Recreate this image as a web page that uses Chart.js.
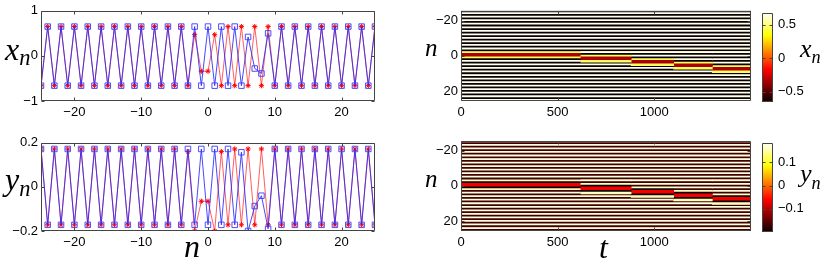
<!DOCTYPE html>
<html>
<head>
<meta charset="utf-8">
<script src="https://cdn.jsdelivr.net/npm/chart.js@4.4.0/dist/chart.umd.min.js"></script>
<style>
  html, body { margin: 0; padding: 0; background: #fff; }
  #wrap { position: relative; width: 831px; height: 263px; overflow: hidden; }
  canvas { position: absolute; }
  .lab { position: absolute; font-family: "Liberation Serif", "Times New Roman", serif; font-style: italic; color: #000; line-height: 1; white-space: nowrap; }
  .lab sub { font-size: 0.7em; vertical-align: baseline; position: relative; }
</style>
</head>
<body>
<div id="wrap">
  <canvas id="xLine" width="390" height="125" style="left:0px;top:0px"></canvas>
  <canvas id="yLine" width="390" height="131" style="left:0px;top:132px"></canvas>
  <canvas id="xHeat" width="365" height="125" style="left:400px;top:0px"></canvas>
  <canvas id="yHeat" width="365" height="133" style="left:400px;top:130px"></canvas>
  <canvas id="xBar" width="76" height="125" style="left:755px;top:0px"></canvas>
  <canvas id="yBar" width="76" height="133" style="left:755px;top:130px"></canvas>

  <div class="lab" style="left:5px;top:33px;font-size:32px">x<sub style="top:5px">n</sub></div>
  <div class="lab" style="left:5px;top:163px;font-size:32px">y<sub style="top:6px">n</sub></div>
  <div class="lab" style="left:184px;top:230px;font-size:32px">n</div>
  <div class="lab" style="left:425px;top:35px;font-size:25px">n</div>
  <div class="lab" style="left:425px;top:166px;font-size:25px">n</div>
  <div class="lab" style="left:599px;top:231px;font-size:32px">t</div>
  <div class="lab" style="left:800px;top:36px;font-size:26px">x<sub style="top:6px">n</sub></div>
  <div class="lab" style="left:800px;top:161px;font-size:26px">y<sub style="top:7px">n</sub></div>
</div>

<script>
// ---- data ----
const nValues = [-25,-24,-23,-22,-21,-20,-19,-18,-17,-16,-15,-14,-13,-12,-11,-10,-9,-8,-7,-6,-5,-4,-3,-2,-1,
                 0,1,2,3,4,5,6,7,8,9,10,11,12,13,14,15,16,17,18,19,20,21,22,23,24,25];
const nTicks = [-20, -10, 0, 10, 20];

// x_n, red stars (start) and blue squares (end)
const xRed = [-0.66,0.65,-0.66,0.65,-0.66,0.65,-0.66,0.65,-0.66,0.65,-0.66,0.65,-0.66,0.65,-0.66,0.65,-0.66,0.65,-0.66,0.65,-0.66,0.65,-0.66,
              0.47,-0.34,-0.34,0.47,
              -0.66,0.65,-0.66,0.65,-0.66,0.65,-0.66,0.65,-0.66,0.65,-0.66,0.65,-0.66,0.65,-0.66,0.65,-0.66,0.65,-0.66,0.65,-0.66,0.65,-0.66,0.65];
const xBlue = [-0.66,0.65,-0.66,0.65,-0.66,0.65,-0.66,0.65,-0.66,0.65,-0.66,0.65,-0.66,0.65,-0.66,0.65,-0.66,0.65,-0.66,0.65,-0.66,0.65,-0.66,0.65,-0.66,0.65,-0.66,0.65,-0.66,0.65,-0.66,
               0.42,-0.28,-0.39,0.5,
               -0.66,0.65,-0.66,0.65,-0.66,0.65,-0.66,0.65,-0.66,0.65,-0.66,0.65,-0.66,0.65,-0.66,0.65];
const xTicks = [-1, 0, 1];

// y_n
const yRed = [0.172,-0.172,0.172,-0.172,0.172,-0.172,0.172,-0.172,0.172,-0.172,0.172,-0.172,0.172,-0.172,0.172,-0.172,0.172,-0.172,0.172,-0.172,0.172,-0.172,
              0.16,-0.2,-0.065,-0.065,-0.2,0.16,
              -0.172,0.172,-0.172,0.172,-0.172,0.172,-0.172,0.172,-0.172,0.172,-0.172,0.172,-0.172,0.172,-0.172,0.172,-0.172,0.172,-0.172,0.172,-0.172,0.172,-0.172];
const yBlue = [0.172,-0.172,0.172,-0.172,0.172,-0.172,0.172,-0.172,0.172,-0.172,0.172,-0.172,0.172,-0.172,0.172,-0.172,0.172,-0.172,0.172,-0.172,0.172,-0.172,0.172,-0.172,0.172,-0.172,0.172,-0.172,0.172,-0.172,
               0.157,-0.2,-0.087,-0.04,-0.19,
               0.172,-0.172,0.172,-0.172,0.172,-0.172,0.172,-0.172,0.172,-0.172,0.172,-0.172,0.172,-0.172,0.172,-0.172];
const yTicks = [-0.2, 0, 0.2];

// heatmaps: time slices and how far (in sites) the kink has moved in each
const heatEdges = [0, 620, 880, 1100, 1300, 1500];
const kinkShift = [0, 2, 4, 6, 8];
const heatTicksT = [0, 500, 1000];
const heatTicksN = [-20, 0, 20];

// colour bars
const xColorRange = [-0.655, 0.68];
const yColorRange = [-0.2, 0.184];
const xBarTicks = [-0.5, 0, 0.5];
const yBarTicks = [-0.1, 0, 0.1];

Chart.defaults.font.family = '"Liberation Sans", Arial, Helvetica, sans-serif';
Chart.defaults.font.size = 13;
Chart.defaults.color = '#000';

const FRAME = '#444';

function fmt(v) {
    return (v < 0 ? '\u2212' : '') + Math.abs(v);
}

function setTicks(list) {
    return (scale) => { scale.ticks = list.map(v => ({ value: v })); };
}

// matlab "hot" with 64 levels
function hot(v, range) {
    let f = (v - range[0]) / (range[1] - range[0]);
    f = Math.max(0, Math.min(1, f));
    const i = Math.round(f * 63);
    const r = i < 24 ? (i + 1) / 24 : 1;
    const g = i < 24 ? 0 : (i < 48 ? (i - 23) / 24 : 1);
    const b = i < 48 ? 0 : (i - 47) / 16;
    return `rgb(${Math.round(r * 255)},${Math.round(g * 255)},${Math.round(b * 255)})`;
}

// box + inward ticks on all four sides
const framePlugin = {
    id: 'frame',
    afterDraw(chart) {
        const { ctx, chartArea: a, scales } = chart;
        ctx.save();
        ctx.strokeStyle = FRAME;
        ctx.lineWidth = 1;
        ctx.beginPath();
        const L = Math.round(a.left) + 0.5, R = Math.round(a.right) - 0.5;
        const T = Math.round(a.top) + 0.5, B = Math.round(a.bottom) - 0.5;
        ctx.rect(L, T, R - L, B - T);
        const tl = 3;
        if (scales.x && scales.x.options.display !== false) {
            scales.x.ticks.forEach(t => {
                const x = Math.round(scales.x.getPixelForValue(t.value)) + 0.5;
                ctx.moveTo(x, B); ctx.lineTo(x, B - tl);
                ctx.moveTo(x, T); ctx.lineTo(x, T + tl);
            });
        }
        if (scales.y) {
            scales.y.ticks.forEach(t => {
                const y = Math.round(scales.y.getPixelForValue(t.value)) + 0.5;
                ctx.moveTo(L, y); ctx.lineTo(L + tl, y);
                ctx.moveTo(R, y); ctx.lineTo(R - tl, y);
            });
        }
        ctx.stroke();
        ctx.restore();
    }
};

function lineChart(id, red, blue, yMin, yMax, ticksY, xAxisH) {
    const pts = (arr) => arr.map((v, i) => ({ x: nValues[i], y: v }));
    return new Chart(document.getElementById(id), {
        type: 'line',
        data: {
            datasets: [
                {
                    label: 'end',
                    data: pts(blue),
                    borderColor: 'rgba(40,40,255,0.85)',
                    borderWidth: 1,
                    pointStyle: 'rect',
                    pointRadius: 3.9,
                    pointBorderColor: 'rgba(60,60,255,0.9)',
                    pointBackgroundColor: 'rgba(0,0,0,0)',
                    pointBorderWidth: 1,
                    tension: 0,
                    order: 0
                },
                {
                    label: 'start',
                    data: pts(red),
                    borderColor: 'rgba(255,40,40,0.75)',
                    borderWidth: 1,
                    pointStyle: 'star',
                    pointRadius: 2.6,
                    pointBorderColor: '#ff0000',
                    pointBorderWidth: 1,
                    tension: 0,
                    order: 1
                }
            ]
        },
        options: {
            responsive: false,
            animation: false,
            devicePixelRatio: 1,
            layout: { padding: { left: 0, right: 15, top: 7, bottom: 0 } },
            plugins: { legend: { display: false }, tooltip: { enabled: false } },
            scales: {
                x: {
                    type: 'linear', min: -25, max: 25,
                    afterBuildTicks: setTicks(nTicks),
                    afterFit: (s) => { s.height = xAxisH; },
                    grid: { display: false, drawTicks: false },
                    border: { display: false },
                    ticks: { padding: 4, callback: fmt, maxRotation: 0 }
                },
                y: {
                    type: 'linear', min: yMin, max: yMax,
                    afterBuildTicks: setTicks(ticksY),
                    afterFit: (s) => { s.width = 41; },
                    grid: { display: false, drawTicks: false },
                    border: { display: false },
                    ticks: { padding: 3, callback: fmt }
                }
            }
        },
        plugins: [framePlugin]
    });
}

function heatChart(id, profile, range, xAxisH) {
    const tEnd = heatEdges[heatEdges.length - 1];
    // base rows: starting profile across the whole time span
    const datasets = [{
        data: nValues.map((n) => ({ y: n, x: [heatEdges[0], tEnd] })),
        backgroundColor: profile.map(v => hot(v, range)),
        order: 2
    }];
    // later slices: profile moved by the kink shift, only where it differs
    kinkShift.forEach((s, j) => {
        const data = [], colors = [];
        nValues.forEach((n, i) => {
            const k = i - s;
            const v = k >= 0 ? profile[k] : profile[i];
            if (v !== profile[i]) {
                data.push({ y: n, x: [heatEdges[j], heatEdges[j + 1]] });
                colors.push(hot(v, range));
            }
        });
        if (data.length) datasets.push({ data, backgroundColor: colors, order: 1 });
    });
    datasets.forEach(d => {
        d.borderWidth = 0;
        d.barPercentage = 1;
        d.categoryPercentage = 1;
        d.grouped = false;
    });
    return new Chart(document.getElementById(id), {
        type: 'bar',
        data: { datasets },
        options: {
            indexAxis: 'y',
            responsive: false,
            animation: false,
            devicePixelRatio: 1,
            layout: { padding: { left: 0, right: 14, top: 8, bottom: 0 } },
            plugins: { legend: { display: false }, tooltip: { enabled: false } },
            scales: {
                x: {
                    type: 'linear', min: 0, max: tEnd,
                    afterBuildTicks: setTicks(heatTicksT),
                    afterFit: (s) => { s.height = xAxisH; },
                    grid: { display: false, drawTicks: false },
                    border: { display: false },
                    ticks: { padding: 4, maxRotation: 0, callback: fmt }
                },
                y: {
                    type: 'linear', reverse: true, min: -25.5, max: 25.5,
                    offset: false,
                    afterBuildTicks: setTicks(heatTicksN),
                    afterFit: (s) => { s.width = 61; },
                    grid: { display: false, drawTicks: false, offset: false },
                    border: { display: false },
                    ticks: { padding: 3, callback: fmt }
                }
            }
        },
        plugins: [framePlugin]
    });
}

function colorBar(id, range, ticks, bottomPad) {
    return new Chart(document.getElementById(id), {
        type: 'bar',
        data: {
            labels: ['c'],
            datasets: [{
                data: [[range[0], range[1]]],
                barPercentage: 1,
                categoryPercentage: 1,
                borderWidth: 0,
                backgroundColor: (c) => {
                    const a = c.chart.chartArea;
                    if (!a) return '#000';
                    const g = c.chart.ctx.createLinearGradient(0, a.bottom, 0, a.top);
                    g.addColorStop(0, hot(range[0], range));
                    g.addColorStop(23 / 63, hot(range[0] + (range[1] - range[0]) * 23 / 63, range));
                    g.addColorStop(47 / 63, hot(range[0] + (range[1] - range[0]) * 47 / 63, range));
                    g.addColorStop(1, hot(range[1], range));
                    return g;
                }
            }]
        },
        options: {
            responsive: false,
            animation: false,
            devicePixelRatio: 1,
            layout: { padding: { left: 7, right: 0, top: 8, bottom: bottomPad } },
            plugins: { legend: { display: false }, tooltip: { enabled: false } },
            scales: {
                x: { display: false },
                y: {
                    position: 'right',
                    min: range[0], max: range[1],
                    afterBuildTicks: setTicks(ticks),
                    afterFit: (s) => { s.width = 58; },
                    grid: { display: false, drawTicks: false },
                    border: { display: false },
                    ticks: { padding: 5, callback: fmt }
                }
            }
        },
        plugins: [framePlugin]
    });
}

lineChart('xLine', xRed, xBlue, -1, 1, xTicks, 24);
lineChart('yLine', yRed, yBlue, -0.2, 0.2, yTicks, 32);
heatChart('xHeat', xRed, xColorRange, 24);
heatChart('yHeat', yRed, yColorRange, 32);
colorBar('xBar', xColorRange, xBarTicks, 23);
colorBar('yBar', yColorRange, yBarTicks, 31);
</script>
</body>
</html>
